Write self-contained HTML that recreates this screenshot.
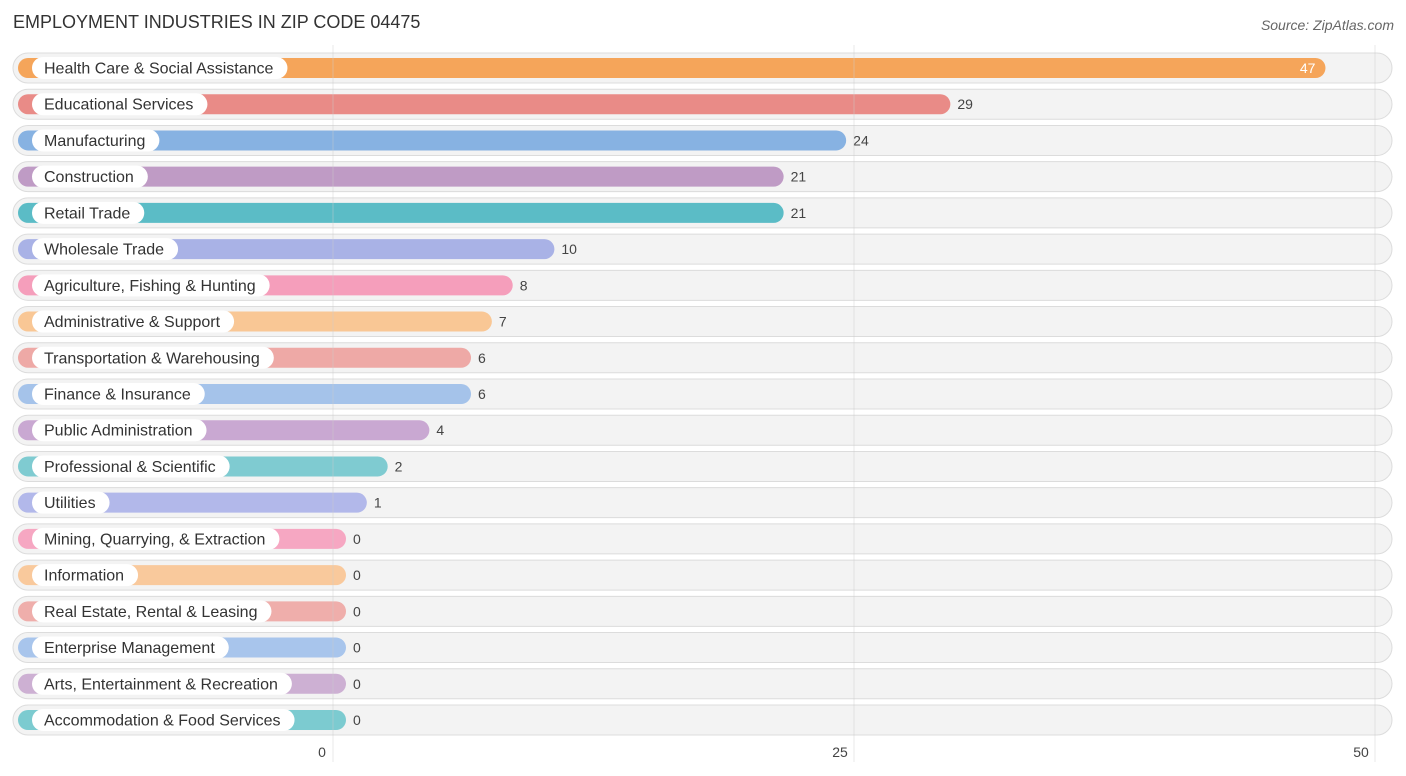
<!DOCTYPE html>
<html><head><meta charset="utf-8"><style>
body{margin:0;background:#fff;font-family:"Liberation Sans",sans-serif}
svg{display:block}
</style></head><body>
<svg id="c" width="1406" height="776">
<text x="13" y="28" font-size="18" fill="#333">EMPLOYMENT INDUSTRIES IN ZIP CODE 04475</text>
<text x="1394" y="30" font-size="14" fill="#666" font-style="italic" text-anchor="end">Source: ZipAtlas.com</text>
<g id="rows"></g><g id="grid"></g>
</svg>
<script>
const categories=["Health Care & Social Assistance","Educational Services","Manufacturing","Construction","Retail Trade","Wholesale Trade","Agriculture, Fishing & Hunting","Administrative & Support","Transportation & Warehousing","Finance & Insurance","Public Administration","Professional & Scientific","Utilities","Mining, Quarrying, & Extraction","Information","Real Estate, Rental & Leasing","Enterprise Management","Arts, Entertainment & Recreation","Accommodation & Food Services"];
const values=[47,29,24,21,21,10,8,7,6,6,4,2,1,0,0,0,0,0,0];
const colors=["#f5a55a","#e98b87","#87b2e2","#bf9bc5","#5bbcc6","#a9b2e6","#f59ebb","#f9c795","#eea9a6","#a5c3ea","#c9a8d2","#7fcbd1","#b2b8ea","#f6a7c2","#f9c99c","#efaeab","#a8c5ec","#cdb0d3","#7ccbd0"];
const ticks=[0,25,50];
const NS="http://www.w3.org/2000/svg";
const x0=333,scale=(854-333)/25;
const xs=v=>x0+v*scale;
const ys=i=>68+i*(720-68)/18;
function mk(t,a,p){const e=document.createElementNS(NS,t);for(const k in a)e.setAttribute(k,a[k]);p.appendChild(e);return e;}
const grid=document.getElementById('grid'),rows=document.getElementById('rows');
const meas=mk('text',{'font-size':16,x:-999,y:-999},rows);
categories.forEach((c,i)=>{
 const y=ys(i),v=values[i];
 const g=mk('g',{},rows);
 
 
 const tr=mk('rect',{x:13,y:y-15,width:1379,height:30,rx:15,fill:'#f3f3f3',stroke:'#dcdcdc','stroke-width':1},g);
 
 
 const end=xs(v)+13;
 const b=mk('rect',{x:18,y:y-10,width:end-18,height:20,rx:10,fill:colors[i]},g);
 
 
 meas.textContent=c;
 const w=meas.getComputedTextLength()+26;
 const p=mk('rect',{x:32,y:y-11,width:w,height:22,rx:11,fill:'#fff'},g);
 
 
 const lt=mk('text',{x:44,y:y+5.5,'font-size':16,fill:'#333'},g);
 lt.textContent=c;
 
 
 const inside=v>40;
 const vt=mk('text',{x:inside?end-10:end+7,y:y+5,'font-size':14,fill:inside?'#fff':'#444','text-anchor':inside?'end':'start'},g);
 vt.textContent=v;
 
 
});
meas.remove();
ticks.forEach(t=>{
 const l=mk('line',{x1:xs(t),x2:xs(t),y1:45,y2:762,stroke:'#ccc','stroke-width':1,'stroke-opacity':0.45},grid);
 
 
 const tx=mk('text',{x:xs(t)-(t===0?11:14),y:757,'font-size':14,fill:'#444','text-anchor':'middle'},grid);
 tx.textContent=t;
 
 
});
</script>
</body></html>
